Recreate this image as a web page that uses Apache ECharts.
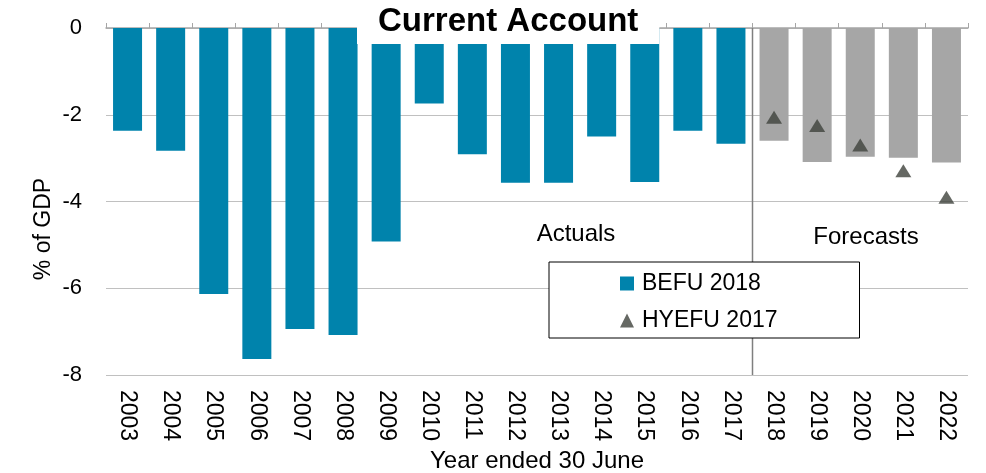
<!DOCTYPE html>
<html>
<head>
<meta charset="utf-8">
<script src="https://cdn.jsdelivr.net/npm/echarts@6/dist/echarts.min.js"></script>
<style>
  html, body { margin: 0; padding: 0; background: #fff; }
  #chart { width: 986px; height: 473px; }
</style>
</head>
<body>
<div id="chart"></div>
<script>
// ─── Data ───────────────────────────────────────────────────────────────────
const years = ['2003', '2004', '2005', '2006', '2007', '2008', '2009', '2010', '2011', '2012',
               '2013', '2014', '2015', '2016', '2017', '2018', '2019', '2020', '2021', '2022'];
// BEFU 2018 current account balance, % of GDP (actuals to 2017, forecasts after)
const befu2018 = [-2.37, -2.83, -6.13, -7.63, -6.94, -7.08, -4.92, -1.74, -2.91, -3.57,
                  -3.57, -2.50, -3.55, -2.37, -2.67, -2.60, -3.09, -2.97, -2.99, -3.10];
// HYEFU 2017 forecasts
const hyefu2017 = [null, null, null, null, null, null, null, null, null, null,
                   null, null, null, null, null, -2.06, -2.25, -2.70, -3.29, -3.90];
const firstForecast = 15;
const yTicks = { min: -8, max: 0, interval: 2 };

// ─── Style ──────────────────────────────────────────────────────────────────
const FONT = '"Liberation Sans", Arial, sans-serif';
const BLUE = '#0083AC';
const GREY = '#A6A6A6';
const TRI = '#3F423C';

const chart = echarts.init(document.getElementById('chart'), null, { renderer: 'canvas' });

chart.setOption({
  animation: false,
  backgroundColor: '#fff',
  textStyle: { fontFamily: FONT, color: '#000' },
  title: {
    text: 'Current Account',
    left: 357,
    top: 0,
    padding: [4, 21, 4, 21],
    backgroundColor: '#fff',
    textStyle: { fontFamily: FONT, fontSize: 33, fontWeight: 'bold', color: '#000', lineHeight: 36 },
  },
  legend: {
    orient: 'vertical',
    left: 549,
    top: 262,
    padding: [10, 82, 6, 71],
    itemGap: 14,
    itemWidth: 14,
    itemHeight: 14,
    backgroundColor: '#fff',
    borderColor: '#000',
    borderWidth: 1,
    borderRadius: 0,
    textStyle: { fontFamily: FONT, fontSize: 23, color: '#000', padding: [0, 0, 0, 3] },
    data: [
      { name: 'BEFU 2018', icon: 'rect' },
      { name: 'HYEFU 2017', icon: 'triangle' },
    ],
  },
  grid: { left: 106, right: 18, top: 28, bottom: 98, containLabel: false, outerBoundsMode: 'none' },
  xAxis: [
    {
      type: 'category',
      data: years,
      position: 'bottom',
      axisLine: { show: false },
      axisTick: { show: false },
      axisLabel: { rotate: -90, fontSize: 23, color: '#000', margin: 15, fontFamily: FONT },
      splitLine: { show: false },
      name: 'Year ended 30 June',
      nameLocation: 'middle',
      nameGap: 69,
      nameTextStyle: { fontSize: 24, color: '#000', fontFamily: FONT },
    },
    {
      type: 'category',
      data: years,
      position: 'top',
      axisLine: { show: true, onZero: false, lineStyle: { color: '#a6a6a6', width: 1.5 } },
      axisTick: { show: true, length: 5, lineStyle: { color: '#a6a6a6' } },
      axisLabel: { show: false },
      splitLine: { show: false },
    },
  ],
  yAxis: {
    type: 'value',
    min: yTicks.min,
    max: yTicks.max,
    interval: yTicks.interval,
    axisLine: { show: false },
    axisTick: { show: false },
    axisLabel: { fontSize: 22, color: '#000', margin: 24, fontFamily: FONT },
    splitLine: { lineStyle: { color: '#c0c0c0', width: 1 } },
  },
  series: [
    {
      name: 'BEFU 2018',
      type: 'bar',
      xAxisIndex: 0,
      barWidth: 29,
      itemStyle: { color: BLUE },
      data: befu2018.map((v, i) => i >= firstForecast ? { value: v, itemStyle: { color: GREY } } : v),
    },
    {
      name: 'HYEFU 2017',
      type: 'scatter',
      xAxisIndex: 0,
      symbol: 'triangle',
      symbolSize: [16, 13],
      itemStyle: { color: TRI },
      z: 5,
      data: hyefu2017,
    },
  ],
});

// Actuals / Forecasts divider sits on the category boundary, placed via the axis scales
const xLast = chart.convertToPixel({ xAxisIndex: 0 }, firstForecast - 1);
const xFirst = chart.convertToPixel({ xAxisIndex: 0 }, firstForecast);
const xDiv = (xLast + xFirst) / 2;
const yTop = chart.convertToPixel({ yAxisIndex: 0 }, yTicks.max);
const yBot = chart.convertToPixel({ yAxisIndex: 0 }, yTicks.min);

chart.setOption({
  graphic: [
    {
      type: 'line', z: 1,
      shape: { x1: xDiv, y1: yTop, x2: xDiv, y2: yBot },
      style: { stroke: '#7f7f7f', lineWidth: 1.5 },
    },
    {
      type: 'text', x: 44, y: 229, rotation: Math.PI / 2,
      style: { text: '% of GDP', font: '23px ' + FONT, fill: '#000', align: 'center', verticalAlign: 'middle' },
    },
    {
      type: 'text', x: 576, y: 234,
      style: { text: 'Actuals', font: '24px ' + FONT, fill: '#000', align: 'center', verticalAlign: 'middle' },
    },
    {
      type: 'text', x: 866, y: 237,
      style: { text: 'Forecasts', font: '24px ' + FONT, fill: '#000', align: 'center', verticalAlign: 'middle' },
    },
  ],
});
</script>
</body>
</html>
